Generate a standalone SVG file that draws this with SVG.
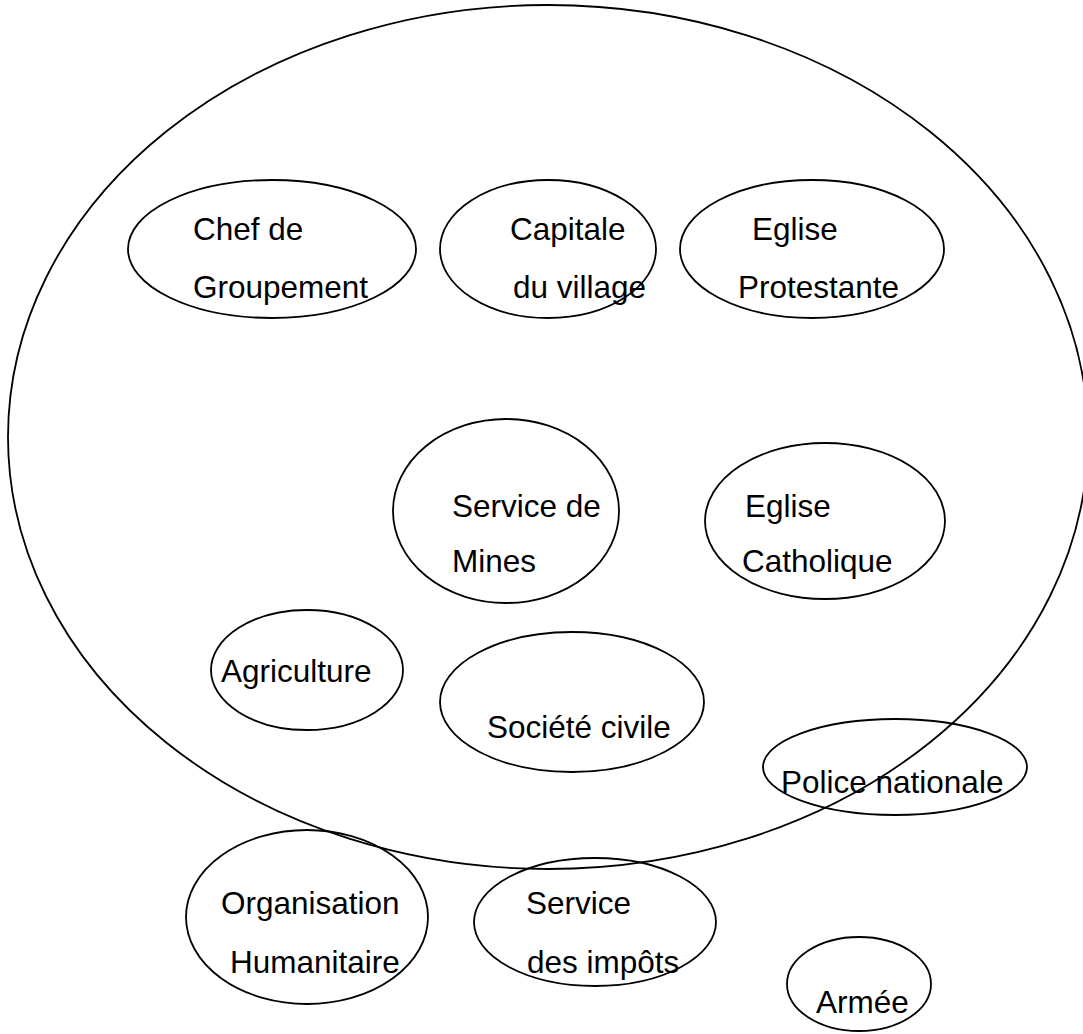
<svg xmlns="http://www.w3.org/2000/svg" width="1083" height="1034" viewBox="0 0 1083 1034">
  <style>
    .shape { fill: none; stroke: #000; stroke-width: 1.8; }
    .label { font-family: "Liberation Sans", Arial, sans-serif; font-size: 31.5px; fill: #000; }
  </style>
  <rect width="1083" height="1034" fill="#fff"/>

  <!-- enclosing boundary -->
  <g id="boundary">
    <ellipse class="shape" cx="548" cy="437" rx="540" ry="432"/>
  </g>

  <g id="connectors"></g>

  <g id="chef-groupement">
    <ellipse class="shape" cx="272" cy="249" rx="144" ry="69"/>
    <text class="label" x="193" y="240">Chef de</text>
    <text class="label" x="193" y="298">Groupement</text>
  </g>

  <g id="capitale-village">
    <ellipse class="shape" cx="548" cy="249" rx="108" ry="69"/>
    <text class="label" x="510" y="240">Capitale</text>
    <text class="label" x="513" y="298">du village</text>
  </g>

  <g id="eglise-protestante">
    <ellipse class="shape" cx="812" cy="249" rx="132" ry="69"/>
    <text class="label" x="752" y="240">Eglise</text>
    <text class="label" x="738" y="298">Protestante</text>
  </g>

  <g id="service-mines">
    <ellipse class="shape" cx="506" cy="511" rx="113" ry="92"/>
    <text class="label" x="452" y="517">Service de</text>
    <text class="label" x="452" y="572">Mines</text>
  </g>

  <g id="eglise-catholique">
    <ellipse class="shape" cx="825" cy="521" rx="120" ry="78"/>
    <text class="label" x="745" y="517">Eglise</text>
    <text class="label" x="742" y="572">Catholique</text>
  </g>

  <g id="agriculture">
    <ellipse class="shape" cx="307" cy="670" rx="96" ry="60"/>
    <text class="label" x="221" y="682">Agriculture</text>
  </g>

  <g id="societe-civile">
    <ellipse class="shape" cx="572" cy="702" rx="132" ry="70"/>
    <text class="label" x="487" y="738">Société civile</text>
  </g>

  <g id="police-nationale">
    <ellipse class="shape" cx="895" cy="767" rx="132" ry="48"/>
    <text class="label" x="781" y="793">Police nationale</text>
  </g>

  <g id="organisation-humanitaire">
    <ellipse class="shape" cx="307" cy="917" rx="121" ry="87"/>
    <text class="label" x="221" y="914">Organisation</text>
    <text class="label" x="230" y="973">Humanitaire</text>
  </g>

  <g id="service-impots">
    <ellipse class="shape" cx="595" cy="922" rx="121" ry="64"/>
    <text class="label" x="526" y="914">Service</text>
    <text class="label" x="527" y="973">des impôts</text>
  </g>

  <g id="armee">
    <ellipse class="shape" cx="859" cy="984" rx="72" ry="47"/>
    <text class="label" x="816" y="1013">Armée</text>
  </g>
</svg>
